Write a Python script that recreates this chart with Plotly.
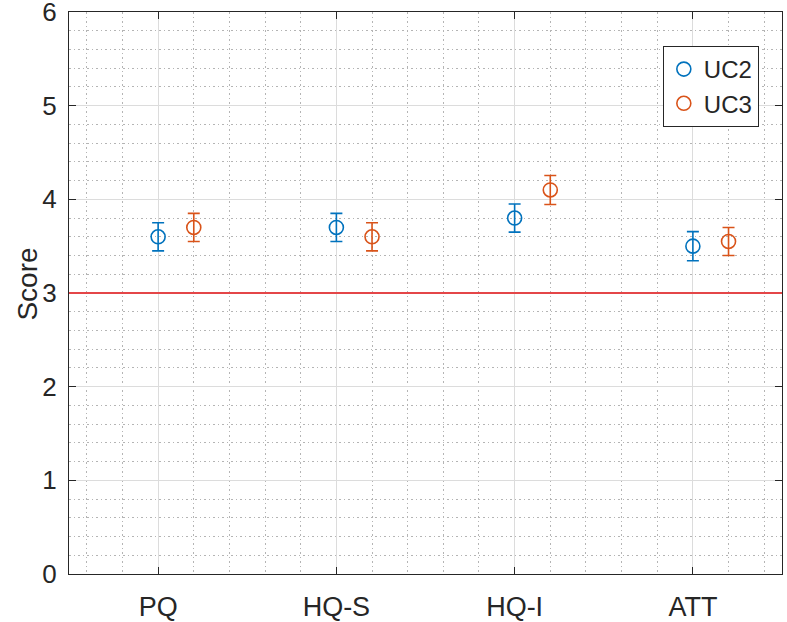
import plotly.graph_objects as go

categories = ["PQ", "HQ-S", "HQ-I", "ATT"]
uc2_mean = [3.6, 3.7, 3.8, 3.5]
uc2_err = [0.15, 0.15, 0.15, 0.155]
uc3_mean = [3.7, 3.6, 4.1, 3.55]
uc3_err = [0.15, 0.15, 0.155, 0.15]
threshold = 3

positions = list(range(1, len(categories) + 1))
uc3_offset = 0.2

BLUE = "#0072BD"
ORANGE = "#D95319"
FONT = "Liberation Sans, Arial, Helvetica, sans-serif"
TXT = "#262626"
MINOR = dict(dtick=0.2, tick0=0, showgrid=True, griddash="1.5px,3px",
             gridcolor="#B4B4B4", gridwidth=1, ticklen=0)

fig = go.Figure()
fig.add_trace(go.Scatter(
    x=positions, y=uc2_mean, mode="markers", name="UC2",
    marker=dict(symbol="circle-open", size=14, color=BLUE, line=dict(width=1.6, color=BLUE)),
    error_y=dict(type="data", array=uc2_err, visible=True, color=BLUE, thickness=1.6, width=6),
))
fig.add_trace(go.Scatter(
    x=[p + uc3_offset for p in positions], y=uc3_mean, mode="markers", name="UC3",
    marker=dict(symbol="circle-open", size=14, color=ORANGE, line=dict(width=1.6, color=ORANGE)),
    error_y=dict(type="data", array=uc3_err, visible=True, color=ORANGE, thickness=1.6, width=6),
))
fig.add_hline(y=threshold, line=dict(color="rgb(228,70,72)", width=2.2), layer="above")

axis_common = dict(
    showline=True, linecolor=TXT, linewidth=1.2, mirror="ticks",
    ticks="inside", ticklen=7, tickcolor=TXT, tickwidth=1.3,
    showgrid=True, gridcolor="#DCDCDC", gridwidth=1, zeroline=False,
    automargin=False, ticklabeloverflow="allow",
)

fig.update_xaxes(
    range=[0.5, 4.5], tickvals=positions, ticktext=categories,
    tickfont=dict(family=FONT, size=27, color=TXT), ticklabelstandoff=8,
    minor=MINOR, **axis_common,
)
fig.update_yaxes(
    range=[0, 6], dtick=1, tick0=0,
    tickfont=dict(family=FONT, size=26, color=TXT), ticklabelstandoff=6,
    minor=MINOR, **axis_common,
)

fig.add_annotation(
    text="Score", textangle=-90, showarrow=False,
    xref="paper", yref="paper", x=-0.0575, y=0.515, xanchor="center", yanchor="middle",
    font=dict(family=FONT, size=28, color=TXT),
)

fig.update_layout(
    width=787, height=622,
    margin=dict(l=69, r=5, t=12, b=48),
    plot_bgcolor="white", paper_bgcolor="white",
    showlegend=True,
    legend=dict(
        x=0.9675, y=0.9395, xanchor="right", yanchor="top",
        bgcolor="white", bordercolor=TXT, borderwidth=1,
        font=dict(family=FONT, size=24, color=TXT),
        itemwidth=30, tracegroupgap=0,
    ),
    font=dict(family=FONT),
)

# remove the page's default body margin so the figure fills the window exactly
fig.write_html(
    "out.html",
    config={"displayModeBar": False},
    post_script="document.body.style.margin='0';document.body.style.overflow='hidden';",
)
